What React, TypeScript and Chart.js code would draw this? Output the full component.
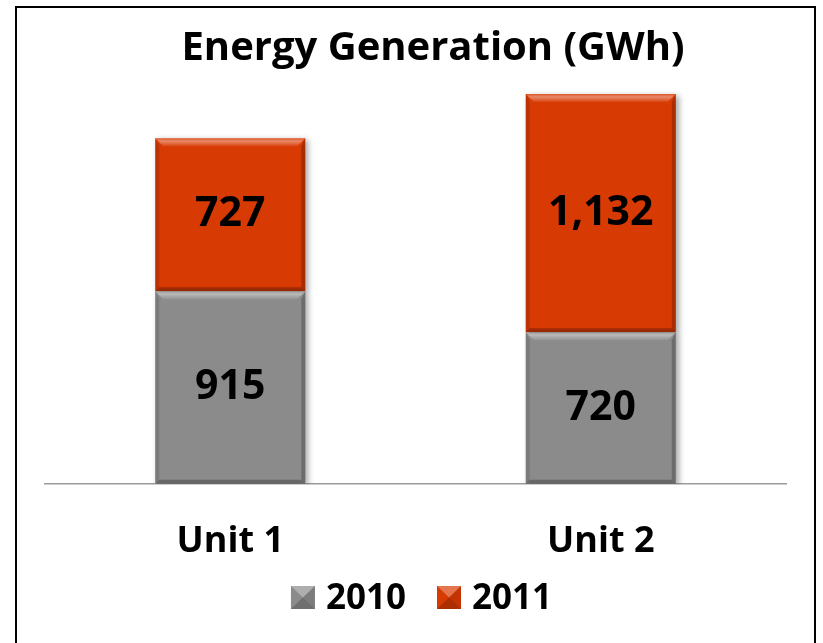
import { useEffect, useRef } from 'react';
import { Chart, registerables } from 'chart.js';

Chart.register(...registerables);

const categories = ['Unit 1', 'Unit 2'];
const seriesNames = ['2010', '2011'];
const values2010 = [915, 720];
const values2011 = [727, 1132];
const titleText = 'Energy Generation (GWh)';
const yMax = 1900;

const FONT = '"Open Sans", "Noto Sans", sans-serif';
const GRAY = '#8b8b8b';
const ORANGE = '#d83a04';

function bevel(ctx: CanvasRenderingContext2D, l: number, t: number, r: number, b: number) {
  const w = r - l;
  const h = b - t;
  if (w <= 0 || h <= 0) return;
  const top = Math.min(8, h / 3);
  const side = Math.min(4, w / 4);
  const bot = Math.min(4, h / 4);
  ctx.save();
  const g = ctx.createLinearGradient(0, t, 0, t + top);
  g.addColorStop(0, 'rgba(255,255,255,0.15)');
  g.addColorStop(0.35, 'rgba(255,255,255,0.4)');
  g.addColorStop(1, 'rgba(255,255,255,0.06)');
  ctx.fillStyle = g;
  ctx.beginPath();
  ctx.moveTo(l, t);
  ctx.lineTo(r, t);
  ctx.lineTo(r - top, t + top);
  ctx.lineTo(l + top, t + top);
  ctx.closePath();
  ctx.fill();
  ctx.fillStyle = 'rgba(0,0,0,0.12)';
  ctx.beginPath();
  ctx.moveTo(l, t);
  ctx.lineTo(l + side, t + top);
  ctx.lineTo(l + side, b - bot);
  ctx.lineTo(l, b);
  ctx.closePath();
  ctx.fill();
  ctx.fillStyle = 'rgba(0,0,0,0.22)';
  ctx.beginPath();
  ctx.moveTo(r, t);
  ctx.lineTo(r - side, t + top);
  ctx.lineTo(r - side, b - bot);
  ctx.lineTo(r, b);
  ctx.closePath();
  ctx.fill();
  ctx.fillStyle = 'rgba(0,0,0,0.25)';
  ctx.beginPath();
  ctx.moveTo(l, b);
  ctx.lineTo(l + side, b - bot);
  ctx.lineTo(r - side, b - bot);
  ctx.lineTo(r, b);
  ctx.closePath();
  ctx.fill();
  ctx.restore();
}

function bevelSquare(ctx: CanvasRenderingContext2D, l: number, t: number, r: number, b: number) {
  const cx = (l + r) / 2;
  const cy = (t + b) / 2;
  ctx.save();
  ctx.fillStyle = 'rgba(255,255,255,0.3)';
  ctx.beginPath();
  ctx.moveTo(l, t); ctx.lineTo(r, t); ctx.lineTo(cx, cy); ctx.closePath(); ctx.fill();
  ctx.fillStyle = 'rgba(0,0,0,0.2)';
  ctx.beginPath();
  ctx.moveTo(l, b); ctx.lineTo(r, b); ctx.lineTo(cx, cy); ctx.closePath(); ctx.fill();
  ctx.fillStyle = 'rgba(0,0,0,0.1)';
  ctx.beginPath();
  ctx.moveTo(r, t); ctx.lineTo(r, b); ctx.lineTo(cx, cy); ctx.closePath(); ctx.fill();
  ctx.restore();
}

const shadowPlugin = {
  id: 'barShadow',
  beforeDatasetsDraw(chart: any) {
    const ctx = chart.ctx;
    ctx.save();
    ctx.shadowColor = 'rgba(0,0,0,0.35)';
    ctx.shadowBlur = 6;
    ctx.shadowOffsetX = 3;
    ctx.shadowOffsetY = 2;
  },
  afterDatasetsDraw(chart: any) {
    chart.ctx.restore();
  },
};

const bevelLabelPlugin = {
  id: 'bevelLabels',
  afterDatasetsDraw(chart: any) {
    const ctx = chart.ctx;
    chart.data.datasets.forEach((_ds: any, di: number) => {
      const meta = chart.getDatasetMeta(di);
      meta.data.forEach((el: any) => {
        bevel(ctx, el.x - el.width / 2, Math.min(el.y, el.base), el.x + el.width / 2, Math.max(el.y, el.base));
      });
    });
    chart.data.datasets.forEach((ds: any, di: number) => {
      const meta = chart.getDatasetMeta(di);
      meta.data.forEach((el: any, i: number) => {
        const v = ds.data[i] as number;
        ctx.save();
        ctx.font = `bold 41px ${FONT}`;
        ctx.fillStyle = '#000';
        ctx.textAlign = 'center';
        ctx.textBaseline = 'middle';
        ctx.fillText(v.toLocaleString('en-US'), el.x, (el.y + el.base) / 2);
        ctx.restore();
      });
    });
  },
};

const customTitlePlugin = {
  id: 'customTitle',
  afterDraw(chart: any, _args: any, opts: any) {
    const ctx = chart.ctx;
    ctx.save();
    ctx.font = `bold ${opts.fontSize}px ${FONT}`;
    ctx.fillStyle = '#000';
    ctx.textAlign = 'center';
    ctx.textBaseline = 'alphabetic';
    ctx.fillText(opts.text, opts.centerX, opts.baseline);
    ctx.restore();
  },
};

const customLegendPlugin = {
  id: 'customLegend',
  afterDraw(chart: any, _args: any, opts: any) {
    const ctx = chart.ctx;
    const box = opts.box;
    const gap = opts.gap;
    const itemGap = opts.itemGap;
    ctx.save();
    ctx.font = `bold ${opts.fontSize}px ${FONT}`;
    const items = chart.data.datasets.map((ds: any) => ({
      text: ds.label as string,
      color: ds.backgroundColor as string,
      w: ctx.measureText(ds.label).width,
    }));
    let total = 0;
    items.forEach((it: any, i: number) => {
      total += box + gap + it.w + (i < items.length - 1 ? itemGap : 0);
    });
    let x = opts.centerX - total / 2;
    const baseline = opts.baseline;
    items.forEach((it: any) => {
      const t = baseline - box + 1;
      ctx.fillStyle = it.color;
      ctx.fillRect(x, t, box, box - 1);
      bevelSquare(ctx, x, t, x + box, t + box - 1);
      ctx.fillStyle = '#000';
      ctx.textAlign = 'left';
      ctx.textBaseline = 'alphabetic';
      ctx.fillText(it.text, x + box + gap, baseline);
      x += box + gap + it.w + itemGap;
    });
    ctx.restore();
  },
};

export default function App() {
  const canvasRef = useRef<HTMLCanvasElement | null>(null);

  useEffect(() => {
    if (!canvasRef.current) return;
    const chart = new Chart(canvasRef.current, {
      type: 'bar',
      data: {
        labels: categories,
        datasets: [
          { label: seriesNames[0], data: values2010, backgroundColor: GRAY, borderWidth: 0 },
          { label: seriesNames[1], data: values2011, backgroundColor: ORANGE, borderWidth: 0 },
        ],
      },
      options: {
        animation: false,
        responsive: false,
        maintainAspectRatio: false,
        events: [],
        layout: { padding: { left: 45, right: 37, top: 84, bottom: 44 } },
        datasets: { bar: { categoryPercentage: 1, barPercentage: 0.405 } },
        scales: {
          x: {
            stacked: true,
            grid: { display: false, drawTicks: false },
            border: { display: true, color: '#9a9a9a', width: 1.5 },
            ticks: {
              color: '#000',
              padding: 36,
              font: { family: FONT, size: 36, weight: 'bold' },
            },
          },
          y: {
            stacked: true,
            display: false,
            min: 0,
            max: yMax,
          },
        },
        plugins: {
          title: { display: false },
          legend: { display: false },
          tooltip: { enabled: false },
          customTitle: { text: titleText, fontSize: 40, centerX: 433, baseline: 60 },
          customLegend: { box: 24, gap: 11, itemGap: 31, fontSize: 35, centerX: 421.5, baseline: 609 },
        } as any,
      },
      plugins: [shadowPlugin, bevelLabelPlugin, customTitlePlugin, customLegendPlugin],
    });
    return () => chart.destroy();
  }, []);

  return (
    <div style={{ position: 'fixed', left: 0, top: 0, width: 823, height: 643, background: '#fff', overflow: 'hidden' }}>
      <canvas ref={canvasRef} width={823} height={643} style={{ position: 'absolute', left: 0, top: 0, width: 823, height: 643 }} />
      <div
        style={{
          position: 'absolute',
          left: 15,
          top: 6,
          width: 801,
          height: 700,
          border: '2px solid #000',
          boxSizing: 'border-box',
          pointerEvents: 'none',
        }}
      />
    </div>
  );
}
